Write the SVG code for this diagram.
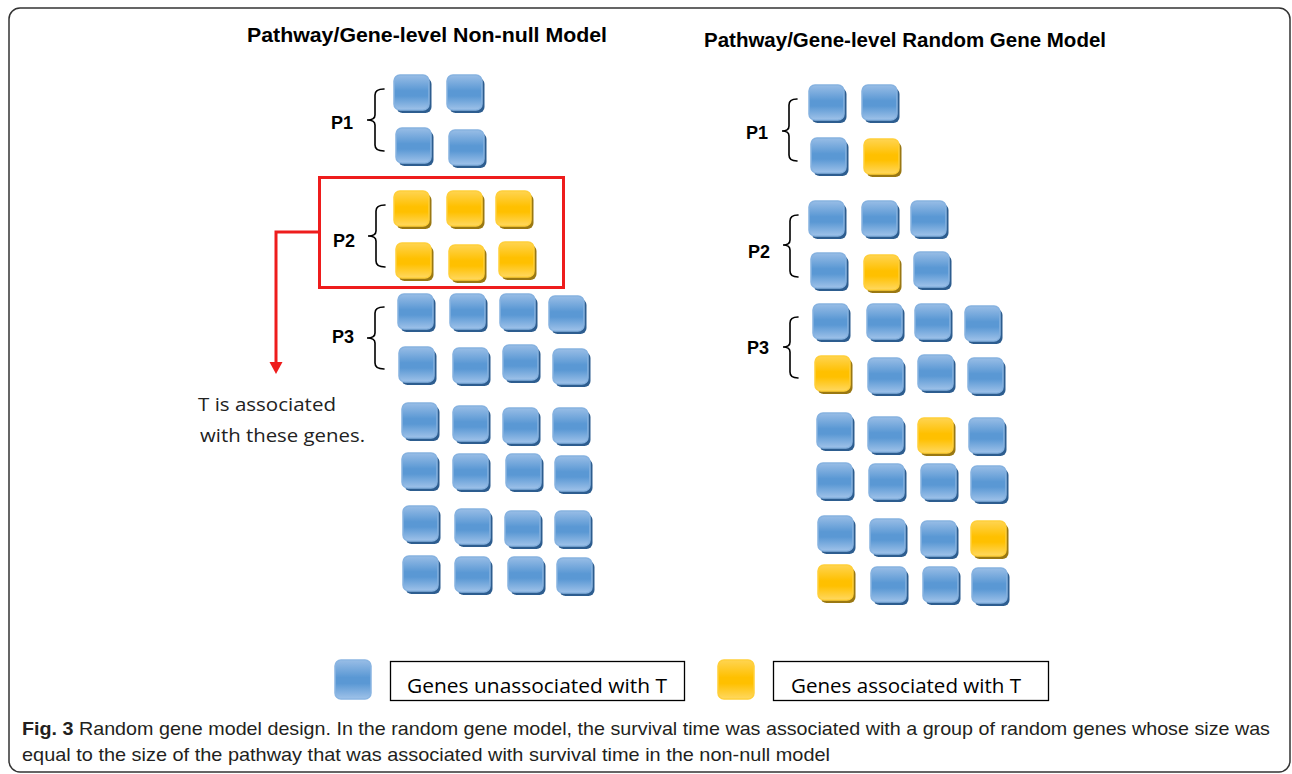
<svg xmlns="http://www.w3.org/2000/svg" xmlns:xlink="http://www.w3.org/1999/xlink" width="1292" height="774" viewBox="0 0 1292 774">
  <style>
    .title { font-family: "Liberation Sans", Arial, sans-serif; font-weight: bold; font-size: 20px; fill: #000; }
    .plabel { font-family: "Liberation Sans", Arial, sans-serif; font-weight: bold; font-size: 18px; fill: #000; }
    .brace { fill: none; stroke: #000; stroke-width: 1.6; stroke-linecap: round; }
    .note { font-family: "Open Sans", "Liberation Sans", sans-serif; font-size: 19px; fill: #222; }
    .legend-text { font-family: "Open Sans", "Liberation Sans", sans-serif; font-size: 20px; fill: #000; }
    .legend-box { fill: #fff; stroke: #000; stroke-width: 1.3; }
    .caption { font-family: "Liberation Sans", Arial, sans-serif; font-size: 19px; fill: #231f20; }
    .caption-b { font-weight: bold; }
    .frame { fill: none; stroke: #333; stroke-width: 1.5; }
    .red { fill: none; stroke: #ee1c1c; stroke-width: 3; }
  </style>
  <defs>
    <linearGradient id="gBlue" x1="0" y1="0" x2="0" y2="1">
      <stop offset="0" stop-color="#98bde6"/>
      <stop offset="0.45" stop-color="#5a98d4"/>
      <stop offset="0.6" stop-color="#5a98d4"/>
      <stop offset="1" stop-color="#9fc2e9"/>
    </linearGradient>
    <linearGradient id="gYellow" x1="0" y1="0" x2="0" y2="1">
      <stop offset="0" stop-color="#ffd451"/>
      <stop offset="0.45" stop-color="#ffc000"/>
      <stop offset="0.6" stop-color="#ffc000"/>
      <stop offset="1" stop-color="#ffd860"/>
    </linearGradient>
    <g id="blue">
      <rect x="2.5" y="3" width="35" height="35" rx="6" fill="#2d5d8f"/>
      <rect x="0" y="0" width="35" height="35" rx="6" fill="url(#gBlue)" stroke="#86b2e0" stroke-width="1.5"/>
    </g>
    <g id="yellow">
      <rect x="2.5" y="3" width="35" height="35" rx="6" fill="#9a7812"/>
      <rect x="0" y="0" width="35" height="35" rx="6" fill="url(#gYellow)" stroke="#ffcf3a" stroke-width="1.5"/>
    </g>
  </defs>

  <rect width="1292" height="774" fill="#fff"/>
  <rect class="frame" x="9" y="8" width="1281" height="764" rx="11"/>

  <!-- column headings -->
  <text class="title" x="247" y="42" textLength="360" lengthAdjust="spacingAndGlyphs">Pathway/Gene-level Non-null Model</text>
  <text class="title" x="704" y="47" textLength="402" lengthAdjust="spacingAndGlyphs">Pathway/Gene-level Random Gene Model</text>

  <!-- non-null model -->
  <g id="left-P1">
    <text class="plabel" x="331" y="129">P1</text>
    <path class="brace" d="M384 89 Q375 89 375 95 L375 115 Q375 120 367 120 Q375 120 375 125 L375 145 Q375 151 384 151"/>
    <use xlink:href="#blue" x="394" y="75"/>
    <use xlink:href="#blue" x="447" y="75"/>
    <use xlink:href="#blue" x="396" y="128"/>
    <use xlink:href="#blue" x="449" y="130"/>
  </g>
  <g id="left-P2">
    <text class="plabel" x="333" y="247">P2</text>
    <path class="brace" d="M385 205 Q376 205 376 211 L376 231 Q376 236 368 236 Q376 236 376 241 L376 261 Q376 267 385 267"/>
    <use xlink:href="#yellow" x="394" y="191"/>
    <use xlink:href="#yellow" x="447" y="191"/>
    <use xlink:href="#yellow" x="496" y="191"/>
    <use xlink:href="#yellow" x="396" y="243"/>
    <use xlink:href="#yellow" x="449" y="245"/>
    <use xlink:href="#yellow" x="499" y="242"/>
  </g>
  <g id="left-P2-highlight">
    <rect class="red" x="319.5" y="177.5" width="244" height="110"/>
  </g>
  <g id="left-P3">
    <text class="plabel" x="332" y="343">P3</text>
    <path class="brace" d="M384 307 Q375 307 375 313 L375 333 Q375 338 367 338 Q375 338 375 343 L375 363 Q375 369 384 369"/>
    <use xlink:href="#blue" x="398" y="294"/>
    <use xlink:href="#blue" x="450" y="294"/>
    <use xlink:href="#blue" x="500" y="294"/>
    <use xlink:href="#blue" x="549" y="296"/>
    <use xlink:href="#blue" x="399" y="347"/>
    <use xlink:href="#blue" x="453" y="348"/>
    <use xlink:href="#blue" x="503" y="345"/>
    <use xlink:href="#blue" x="553" y="349"/>
  </g>
  <g id="left-others">
    <use xlink:href="#blue" x="402" y="403"/>
    <use xlink:href="#blue" x="453" y="406"/>
    <use xlink:href="#blue" x="503" y="408"/>
    <use xlink:href="#blue" x="553" y="408"/>
    <use xlink:href="#blue" x="402" y="453"/>
    <use xlink:href="#blue" x="453" y="454"/>
    <use xlink:href="#blue" x="506" y="454"/>
    <use xlink:href="#blue" x="555" y="456"/>
    <use xlink:href="#blue" x="403" y="506"/>
    <use xlink:href="#blue" x="455" y="509"/>
    <use xlink:href="#blue" x="505" y="511"/>
    <use xlink:href="#blue" x="555" y="511"/>
    <use xlink:href="#blue" x="403" y="556"/>
    <use xlink:href="#blue" x="455" y="557"/>
    <use xlink:href="#blue" x="508" y="557"/>
    <use xlink:href="#blue" x="557" y="558"/>
  </g>
  <g id="note">
    <text class="note" x="198" y="411" textLength="138" lengthAdjust="spacingAndGlyphs">T is associated</text>
    <text class="note" x="200" y="442" textLength="165" lengthAdjust="spacingAndGlyphs">with these genes.</text>
  </g>

  <!-- random gene model -->
  <g id="right-P1">
    <text class="plabel" x="746" y="139">P1</text>
    <path class="brace" d="M797 99 Q789 99 789 105 L789 126 Q789 131 782 131 Q789 131 789 136 L789 155 Q789 161 797 161"/>
    <use xlink:href="#blue" x="809" y="85"/>
    <use xlink:href="#blue" x="862" y="85"/>
    <use xlink:href="#blue" x="811" y="138"/>
    <use xlink:href="#yellow" x="864" y="139"/>
  </g>
  <g id="right-P2">
    <text class="plabel" x="748" y="258">P2</text>
    <path class="brace" d="M798 215 Q790 215 790 221 L790 240 Q790 245 783 245 Q790 245 790 250 L790 271 Q790 277 798 277"/>
    <use xlink:href="#blue" x="809" y="201"/>
    <use xlink:href="#blue" x="862" y="201"/>
    <use xlink:href="#blue" x="911" y="201"/>
    <use xlink:href="#blue" x="811" y="253"/>
    <use xlink:href="#yellow" x="864" y="255"/>
    <use xlink:href="#blue" x="914" y="252"/>
  </g>
  <g id="right-P3">
    <text class="plabel" x="747" y="354">P3</text>
    <path class="brace" d="M798 317 Q790 317 790 323 L790 342 Q790 347 783 347 Q790 347 790 352 L790 372 Q790 378 798 378"/>
    <use xlink:href="#blue" x="813" y="304"/>
    <use xlink:href="#blue" x="867" y="304"/>
    <use xlink:href="#blue" x="915" y="304"/>
    <use xlink:href="#blue" x="965" y="306"/>
    <use xlink:href="#yellow" x="815" y="356"/>
    <use xlink:href="#blue" x="868" y="358"/>
    <use xlink:href="#blue" x="918" y="355"/>
    <use xlink:href="#blue" x="968" y="358"/>
  </g>
  <g id="right-others">
    <use xlink:href="#blue" x="817" y="413"/>
    <use xlink:href="#blue" x="868" y="417"/>
    <use xlink:href="#yellow" x="918" y="418"/>
    <use xlink:href="#blue" x="969" y="418"/>
    <use xlink:href="#blue" x="817" y="463"/>
    <use xlink:href="#blue" x="869" y="464"/>
    <use xlink:href="#blue" x="921" y="464"/>
    <use xlink:href="#blue" x="971" y="466"/>
    <use xlink:href="#blue" x="818" y="516"/>
    <use xlink:href="#blue" x="870" y="519"/>
    <use xlink:href="#blue" x="921" y="521"/>
    <use xlink:href="#yellow" x="971" y="521"/>
    <use xlink:href="#yellow" x="818" y="565"/>
    <use xlink:href="#blue" x="871" y="567"/>
    <use xlink:href="#blue" x="923" y="567"/>
    <use xlink:href="#blue" x="972" y="568"/>
  </g>

  <!-- connector from the highlighted pathway to its note -->
  <g id="connectors">
    <polyline class="red" points="319,232 276,232 276,363"/>
    <polygon points="269.5,362 282.5,362 276,374" fill="#ee1c1c"/>
  </g>

  <!-- legend -->
  <g id="legend">
    <rect x="335" y="660" width="36" height="39" rx="6" fill="url(#gBlue)" stroke="#8ab5e2" stroke-width="1.5"/>
    <rect class="legend-box" x="390.5" y="661.5" width="294" height="39"/>
    <text class="legend-text" x="407" y="693" textLength="260" lengthAdjust="spacingAndGlyphs">Genes unassociated with T</text>
    <rect x="718" y="660" width="36" height="39" rx="6" fill="url(#gYellow)" stroke="#ffcf3a" stroke-width="1.5"/>
    <rect class="legend-box" x="773.5" y="661.5" width="275" height="39"/>
    <text class="legend-text" x="791" y="693" textLength="230" lengthAdjust="spacingAndGlyphs">Genes associated with T</text>
  </g>

  <!-- caption -->
  <g id="caption">
    <text class="caption" x="22" y="735" textLength="1248" lengthAdjust="spacingAndGlyphs"><tspan class="caption-b">Fig. 3</tspan> Random gene model design. In the random gene model, the survival time was associated with a group of random genes whose size was</text>
    <text class="caption" x="22" y="761" textLength="808" lengthAdjust="spacingAndGlyphs">equal to the size of the pathway that was associated with survival time in the non-null model</text>
  </g>
</svg>
